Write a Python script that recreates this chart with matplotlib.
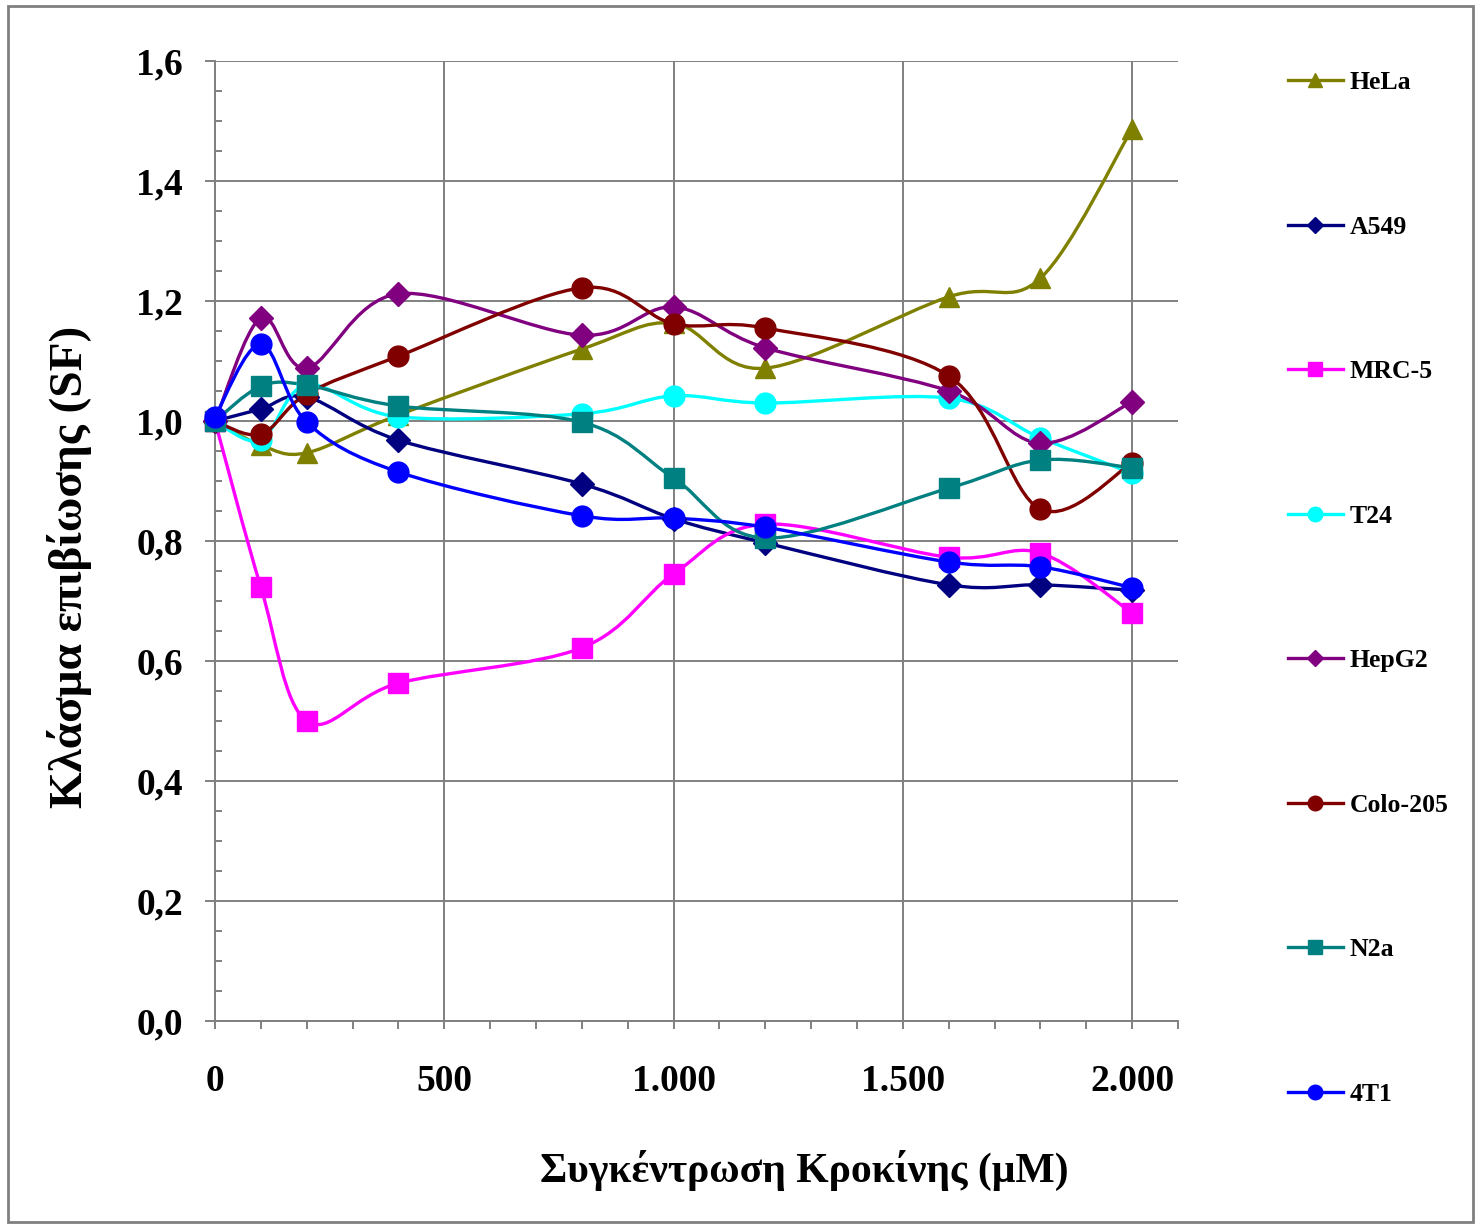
import matplotlib
matplotlib.use("Agg")
import matplotlib.pyplot as plt
import numpy as np
from matplotlib.path import Path
from matplotlib.patches import PathPatch, Rectangle
from matplotlib.lines import Line2D
from matplotlib.ticker import MultipleLocator, FuncFormatter

# concentration (uM)
conc = [0, 100, 200, 400, 800, 1000, 1200, 1600, 1800, 2000]

hela = [1.00, 0.96, 0.947, 1.01, 1.12, 1.163, 1.088, 1.207, 1.238, 1.487]
a549 = [1.00, 1.02, 1.04, 0.968, 0.895, 0.837, 0.797, 0.727, 0.727, 0.718]
mrc5 = [1.00, 0.723, 0.50, 0.563, 0.622, 0.745, 0.828, 0.773, 0.78, 0.68]
t24 = [1.00, 0.968, 1.06, 1.007, 1.012, 1.042, 1.03, 1.038, 0.972, 0.913]
hepg2 = [1.00, 1.172, 1.088, 1.212, 1.143, 1.19, 1.122, 1.05, 0.963, 1.032]
colo205 = [1.00, 0.978, 1.045, 1.108, 1.222, 1.162, 1.155, 1.075, 0.853, 0.93]
n2a = [1.00, 1.058, 1.06, 1.025, 0.998, 0.905, 0.805, 0.888, 0.935, 0.922]
t1 = [1.007, 1.128, 0.998, 0.915, 0.842, 0.838, 0.823, 0.765, 0.757, 0.722]

names = ["HeLa", "A549", "MRC-5", "T24", "HepG2", "Colo-205", "N2a", "4T1"]
series = [hela, a549, mrc5, t24, hepg2, colo205, n2a, t1]
colors = ["#808000", "#000080", "#FF00FF", "#00FFFF",
          "#800080", "#800000", "#008080", "#0000FF"]
markers = ["^", "D", "s", "o", "D", "o", "s", "o"]
msizes = [15, 12, 14, 15, 12, 15, 14, 15]

serif = ["Liberation Serif", "DejaVu Serif"]
plt.rcParams["font.family"] = serif
plt.rcParams["font.weight"] = "bold"


def smooth_path(xs, ys):
    # excel-like smoothed line (cardinal spline through the points)
    pts = np.column_stack([xs, ys]).astype(float)
    n = len(pts)
    verts = [pts[0]]
    codes = [Path.MOVETO]
    for i in range(n - 1):
        p0 = pts[i - 1] if i > 0 else pts[i]
        p1 = pts[i]
        p2 = pts[i + 1]
        p3 = pts[i + 2] if i + 2 < n else pts[i + 1]
        verts += [p1 + (p2 - p0) / 6, p2 - (p3 - p1) / 6, p2]
        codes += [Path.CURVE4] * 3
    return Path(verts, codes)


fig = plt.figure(figsize=(14.78, 12.29), dpi=100)
ax = fig.add_axes([215 / 1478, 1 - 1021 / 1229, 963 / 1478, 960 / 1229])

grey = "#808080"
for ys, c, m, ms in zip(series, colors, markers, msizes):
    ax.add_patch(PathPatch(smooth_path(conc, ys), facecolor="none",
                           edgecolor=c, lw=2.4, zorder=3))
    ax.plot(conc, ys, ls="none", marker=m, ms=ms, color=c,
            mec=c, zorder=4, clip_on=False)

ax.set_xlim(0, 2100)
ax.set_ylim(0, 1.6)
ax.xaxis.set_major_locator(MultipleLocator(500))
ax.xaxis.set_minor_locator(MultipleLocator(100))
ax.yaxis.set_major_locator(MultipleLocator(0.2))
ax.yaxis.set_minor_locator(MultipleLocator(0.05))
ax.xaxis.set_major_formatter(FuncFormatter(
    lambda v, p: f"{int(v):,}".replace(",", ".")))
ax.yaxis.set_major_formatter(FuncFormatter(
    lambda v, p: f"{v:.1f}".replace(".", ",")))

ax.grid(True, which="major", color=grey, lw=1.4, zorder=1)
ax.set_axisbelow(True)
for s in ["top", "right"]:
    ax.spines[s].set_visible(False)
for s in ["left", "bottom"]:
    ax.spines[s].set_color(grey)
    ax.spines[s].set_linewidth(1.4)

ax.tick_params(axis="y", which="major", direction="out", length=7,
               width=1.4, color=grey, pad=16, labelsize=27)
ax.tick_params(axis="y", which="minor", direction="in", length=5,
               width=1.4, color=grey)
ax.tick_params(axis="x", which="major", direction="out", length=6,
               width=1.4, color=grey, pad=25, labelsize=27)
ax.tick_params(axis="x", which="minor", direction="out", length=6,
               width=1.4, color=grey)
for lab in ax.get_xticklabels() + ax.get_yticklabels():
    lab.set_fontweight("bold")

fig.text(804 / 1478, 1 - 1170 / 1229, "Συγκέντρωση Κροκίνης (μM)",
         ha="center", va="center", fontsize=30, fontweight="bold")
fig.text(70 / 1478, 1 - 567 / 1229, "Κλάσμα επιβίωσης (SF)",
         ha="center", va="center", rotation=90, fontsize=34,
         fontweight="bold")

handles = [Line2D([], [], color=c, lw=2.4, marker=m, ms=ms * 0.7, mec=c)
           for c, m, ms in zip(colors, markers, msizes)]
fig.legend(handles, names, loc="upper left",
           bbox_to_anchor=(1288 / 1478, 1 - 71 / 1229), frameon=False,
           labelspacing=4.73, handlelength=2.14,
           handletextpad=0.27, borderpad=0, borderaxespad=0,
           prop={"family": serif, "weight": "bold", "size": 18.5})

fig.patches.append(Rectangle((8 / 1478, 1 - 1222 / 1229),
                             1465 / 1478, 1216 / 1229,
                             transform=fig.transFigure, fill=False,
                             edgecolor=grey, lw=2))

fig.savefig("out.png", dpi=100)
